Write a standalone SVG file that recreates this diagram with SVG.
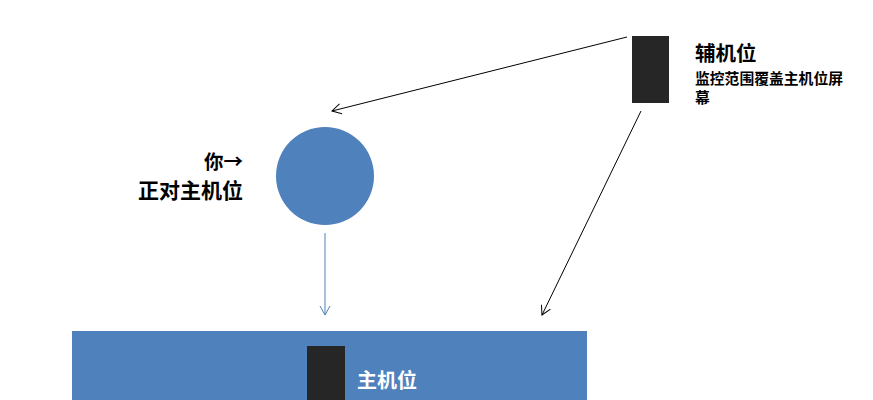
<svg xmlns="http://www.w3.org/2000/svg" width="873" height="400" viewBox="0 0 873 400">
<style>
.t{font-family:"Noto Sans CJK SC","Liberation Sans",sans-serif;font-weight:bold;fill:#000}
.blk{fill:#262626}
.blue{fill:#4f81bd}
</style>
<defs>
<marker id="ak" markerWidth="12" markerHeight="12" refX="10" refY="6" orient="auto" markerUnits="userSpaceOnUse">
<path d="M1,1 L10,6 L1,11" fill="none" stroke="#000" stroke-width="1"/>
</marker>
<marker id="ab" markerWidth="12" markerHeight="12" refX="10" refY="6" orient="auto" markerUnits="userSpaceOnUse">
<path d="M1,1 L10,6 L1,11" fill="none" stroke="#4f81bd" stroke-width="1"/>
</marker>
</defs>
<rect width="873" height="400" fill="#fff"/>
<g id="main">
<rect class="blue" x="72" y="331" width="515" height="69"/>
<rect class="blk" x="307" y="346" width="38" height="54"/>
<text class="t" x="357" y="388" font-size="20" style="fill:#fff">主机位</text>
</g>
<g id="you">
<circle class="blue" cx="325" cy="176" r="49"/>
<text class="t" x="243" y="169" font-size="19.5" text-anchor="end">你→</text>
<text class="t" x="243" y="198" font-size="21" text-anchor="end">正对主机位</text>
</g>
<g id="aux">
<rect class="blk" x="632" y="36" width="37" height="67"/>
<text class="t" x="695" y="61" font-size="20.5">辅机位</text>
<text class="t" x="695" y="84" font-size="14.8">监控范围覆盖主机位屏</text>
<text class="t" x="695" y="103" font-size="14.8">幕</text>
</g>
<g id="connectors">
<line x1="627" y1="37" x2="332" y2="111" stroke="#000" stroke-width="1" marker-end="url(#ak)"/>
<line x1="641" y1="111" x2="542" y2="315" stroke="#000" stroke-width="1" marker-end="url(#ak)"/>
<line x1="325" y1="233" x2="325" y2="315" stroke="#4f81bd" stroke-width="1" marker-end="url(#ab)"/>
</g>
</svg>
